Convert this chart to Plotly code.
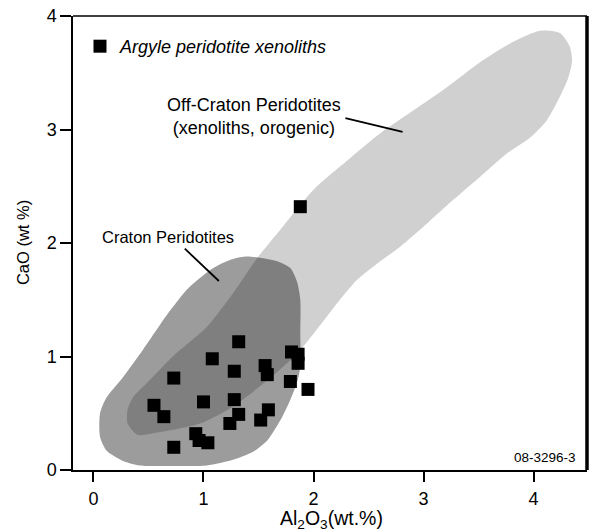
import plotly.graph_objects as go

# Argyle peridotite xenoliths: Al2O3 and CaO (wt.%)
al2o3 = [1.32, 1.08, 1.28, 0.73, 1.56, 1.58, 1.80, 1.86, 1.86, 1.79, 1.95,
         0.55, 0.64, 1.00, 1.28, 1.32, 1.24, 1.59, 1.52, 0.93, 0.96, 1.04,
         0.73, 1.88]
cao = [1.13, 0.98, 0.87, 0.81, 0.92, 0.84, 1.04, 1.02, 0.94, 0.78, 0.71,
       0.57, 0.47, 0.60, 0.62, 0.49, 0.41, 0.53, 0.44, 0.32, 0.26, 0.24,
       0.20, 2.32]

# Field outlines (Al2O3, CaO)
off_craton_x = [1.03, 1.27, 1.49, 1.70, 2.00, 2.31, 2.61, 2.91, 3.21, 3.51,
                3.81, 4.06, 4.24, 4.33, 4.35, 4.31, 4.24, 4.12, 3.97, 3.76,
                3.51, 3.27, 3.03, 2.79, 2.58, 2.39, 2.24, 2.12, 2.00, 1.90,
                1.79, 1.58, 1.27, 0.97, 0.58, 0.40, 0.31, 0.31, 0.36, 0.49,
                0.72, 1.03]
off_craton_y = [1.26, 1.56, 1.87, 2.12, 2.47, 2.73, 2.97, 3.17, 3.37, 3.59,
                3.77, 3.87, 3.85, 3.73, 3.60, 3.44, 3.29, 3.08, 2.93, 2.79,
                2.58, 2.38, 2.17, 1.97, 1.82, 1.67, 1.50, 1.35, 1.20, 1.08,
                0.97, 0.79, 0.56, 0.41, 0.33, 0.31, 0.41, 0.53, 0.64, 0.77,
                1.00, 1.26]

craton_x = [0.06, 0.12, 0.27, 0.45, 0.67, 0.85, 0.94, 1.09, 1.24, 1.38,
            1.51, 1.67, 1.79, 1.85, 1.88, 1.88, 1.88, 1.85, 1.79, 1.70,
            1.58, 1.45, 1.27, 1.03, 0.72, 0.42, 0.27, 0.12, 0.06, 0.06]
craton_y = [0.50, 0.64, 0.82, 1.06, 1.37, 1.59, 1.67, 1.78, 1.85, 1.88,
            1.87, 1.84, 1.78, 1.66, 1.50, 1.21, 0.91, 0.77, 0.62, 0.44,
            0.26, 0.16, 0.09, 0.04, 0.035, 0.04, 0.08, 0.17, 0.29, 0.50]

x_ticks = [0, 1, 2, 3, 4]
y_ticks = [0, 1, 2, 3, 4]

FONT = "Arial, Liberation Sans, sans-serif"

fig = go.Figure()

fig.add_trace(go.Scatter(
    x=off_craton_x, y=off_craton_y, mode="lines", fill="toself",
    fillcolor="#d0d0d0", line=dict(width=0, shape="spline", smoothing=0.7),
    hoverinfo="skip", showlegend=False))

fig.add_trace(go.Scatter(
    x=craton_x, y=craton_y, mode="lines", fill="toself",
    fillcolor="rgba(0,0,0,0.39)", line=dict(width=0, shape="spline", smoothing=0.7),
    hoverinfo="skip", showlegend=False))

fig.add_trace(go.Scatter(
    x=al2o3, y=cao, mode="markers",
    marker=dict(symbol="square", size=13, color="black", line=dict(width=0)),
    name="<i>Argyle peridotite xenoliths</i>", showlegend=True))

fig.update_xaxes(range=[-0.186, 4.486], tickvals=x_ticks, ticks="outside",
                 ticklen=10, tickwidth=2, tickcolor="black",
                 showline=True, linecolor="black", linewidth=1.5,
                 showgrid=False, zeroline=False, ticklabelstandoff=2,
                 tickfont=dict(family=FONT, size=18, color="black"))
fig.update_yaxes(range=[0, 4], tickvals=y_ticks, ticks="outside",
                 ticklen=11, tickwidth=2, tickcolor="black",
                 showline=True, linecolor="black", linewidth=1.5,
                 showgrid=False, zeroline=False,
                 tickfont=dict(family=FONT, size=18, color="black"))

# top frame (thin) and right frame (heavy)
fig.add_shape(type="line", xref="paper", yref="paper", x0=0, x1=1, y0=1, y1=1,
              line=dict(color="black", width=1.5))
fig.add_shape(type="line", xref="paper", yref="paper", x0=1, x1=1, y0=0, y1=1,
              line=dict(color="black", width=3.5))

# leader lines for field labels
fig.add_shape(type="line", x0=0.83, y0=1.95, x1=1.14, y1=1.665,
              line=dict(color="black", width=1.8))
fig.add_shape(type="line", x0=2.29, y0=3.10, x1=2.81, y1=2.98,
              line=dict(color="black", width=1.8))

fig.add_annotation(x=0.06, y=2.05, text="Craton Peridotites", showarrow=False,
                   xanchor="left", yanchor="middle",
                   font=dict(family=FONT, size=16.5, color="black"))
fig.add_annotation(x=1.46, y=3.115, text="Off-Craton Peridotites<br>(xenoliths, orogenic)",
                   showarrow=False, xanchor="center", yanchor="middle", align="center",
                   font=dict(family=FONT, size=18, color="black"))
fig.add_annotation(x=4.40, y=0.106, text="08-3296-3", showarrow=False,
                   xanchor="right", yanchor="middle",
                   font=dict(family=FONT, size=13.5, color="black"))

# axis titles
fig.add_annotation(xref="paper", yref="paper", x=(331 - 73) / 514, y=-0.108,
                   text="Al<sub>2</sub>O<sub>3</sub>(wt.%)", showarrow=False,
                   xanchor="center", yanchor="middle",
                   font=dict(family=FONT, size=19.5, color="black"))
fig.add_annotation(xref="paper", yref="paper", x=-0.0973, y=0.502,
                   text="CaO (wt %)", showarrow=False, textangle=-90,
                   xanchor="center", yanchor="middle",
                   font=dict(family=FONT, size=16.5, color="black"))

fig.update_layout(
    width=590, height=531,
    margin=dict(l=73, r=3, t=16, b=61),
    paper_bgcolor="white", plot_bgcolor="white",
    showlegend=True,
    legend=dict(x=0.0136, y=0.9736, xanchor="left", yanchor="top",
                bgcolor="rgba(0,0,0,0)", borderwidth=0,
                font=dict(family=FONT, size=18, color="black")),
)

fig.write_html("out.html")
